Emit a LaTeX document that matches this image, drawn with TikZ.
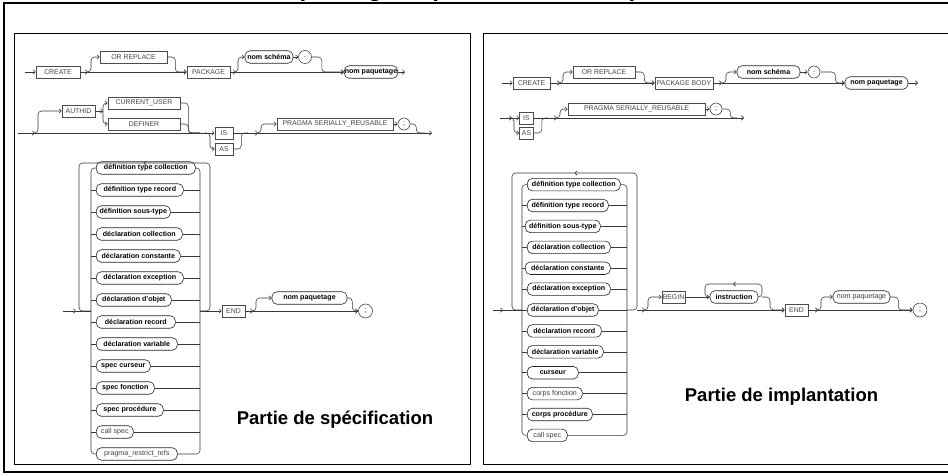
\documentclass[tikz,border=0pt]{standalone}
\usepackage{fontspec}
\setmainfont{Liberation Sans}
\usetikzlibrary{arrows.meta,decorations.markings}
\begin{document}
\begin{tikzpicture}[x=1pt,y=-1pt,
  rr/.style={draw=black!78, line width=0.55pt},
  rc/.style={rr, rounded corners=3.5pt},
  arr/.style={-{Straight Barb[length=2.2pt,width=4.4pt]}},
  kw/.style={draw=black!70, line width=0.55pt, font=\fontsize{6.9}{7}\selectfont, text=black!72, inner sep=0.5pt, minimum height=12pt},
  nt/.style={draw=black!85, line width=0.6pt, rounded corners=5pt, font=\fontsize{7.1}{7.5}\selectfont\bfseries, inner sep=0.5pt, minimum height=12.5pt},
  ntl/.style={nt, font=\fontsize{7.1}{7.5}\selectfont, text=black!75},
  term/.style={circle, draw=black!80, line width=0.55pt, inner sep=0pt, minimum size=13pt, font=\fontsize{7}{7}\selectfont},
  loopmark/.style={postaction={decorate}, decoration={markings, mark=at position 0.5 with {\arrow{Straight Barb[length=2.2pt,width=4.4pt]}}}},
  panel/.style={draw=black, line width=0.9pt},
  caption/.style={font=\fontsize{18.5}{20}\selectfont\bfseries}
]
\useasboundingbox (0,0) rectangle (948,475);
\fill[white] (0,0) rectangle (948,475);

\begin{scope}
\clip (0,0) rectangle (948,475);
% heading, set above the sheet
\node[anchor=base west, font=\fontsize{24}{24}\selectfont\bfseries, inner sep=0pt] (title) at (138,-3.5) {Création d'un package : spécification et implantation};
% outer frame and the two panels
\draw[line width=1.6pt] (4,3) rectangle (952,472);
\draw[panel] (14,33) rectangle (470,464);
\draw[panel] (483,33) rectangle (952,464);
\end{scope}

% ================= specification: CREATE ... PACKAGE =================
\coordinate (l1in) at (25,72);
\node[kw, minimum width=44pt] (lcreate) at (58,72) {CREATE};
\coordinate (l1a) at (88,72);
\node[kw, minimum width=67pt] (lorr) at (133.5,57) {OR REPLACE};
\node[kw, minimum width=43pt] (lpkg) at (208.5,72) {PACKAGE};
\coordinate (l1c) at (236,72);
\node[nt, minimum width=48pt] (lschema) at (269,57) {nom schéma};
\node[term] (ldot) at (305,57) {.};
\node[nt, minimum width=52pt] (lname1) at (371,72) {nom paquetage};
\coordinate (l1out) at (405,72);

\draw[rr,arr] (l1in) -- (lcreate.west);
\draw[rr,arr] (lcreate.east) -- (l1a);
\draw[rc,arr] (l1a) -- ++(3,0) |- (lorr.west);
\draw[rc,arr] (lorr.east) -- ++(8,0) |- (lpkg.west);
\draw[rr,arr] (l1a) -- (lpkg.west);
\draw[rr,arr] (lpkg.east) -- (l1c);
\draw[rc,arr] (l1c) -- ++(2,0) |- (lschema.west);
\draw[rr,arr] (lschema.east) -- (ldot.west);
\draw[rc,arr] (ldot.east) -- ++(10,0) |- (lname1.west);
\draw[rr,arr] (l1c) -- (lname1.west);
\draw[rr,arr] (lname1.east) -- (l1out);

% ================= specification: AUTHID, IS/AS, PRAGMA =================
\coordinate (l2in) at (18,133);
\coordinate (l2f) at (35,133);
\node[kw, minimum width=33pt] (lauth) at (78.5,111) {AUTHID};
\coordinate (l2g) at (103,111);
\node[kw, minimum width=72pt] (lcu) at (144,103) {CURRENT\_USER};
\node[kw, minimum width=72pt] (ldef) at (144,124) {DEFINER};
\coordinate (l2j) at (200,133);
\coordinate (l2k) at (207,133);
\node[kw, minimum width=18pt] (lis) at (224,133) {IS};
\node[kw, minimum width=18pt] (las) at (224,149) {AS};
\coordinate (l2n) at (248,133);
\coordinate (l2p) at (258,133);
\node[kw, minimum width=116pt] (lprag) at (335,124) {PRAGMA SERIALLY\_REUSABLE};
\node[term, minimum size=12pt] (lsc1) at (404,124) {;};
\coordinate (l2q) at (425,133);
\coordinate (l2out) at (432,133);

\draw[rr,arr] (l2in) -- (l2f);
\draw[rr,arr] (l2f) -- (lis.west);
\draw[rc,arr] (l2f) -- ++(3,0) |- (lauth.west);
\draw[rr,arr] (lauth.east) -- (l2g);
\draw[rc,arr] (l2g) |- (lcu.west);
\draw[rc,arr] (l2g) |- (ldef.west);
\draw[rc] (lcu.east) -- ++(8,0) |- (l2j);
\draw[rc] (ldef.east) -- ++(8,0) |- (l2j);
\draw[rc,arr] (l2k) -- ++(3,0) |- (las.west);
\draw[rr] (lis.east) -- (l2n);
\draw[rc] (las.east) -- ++(8,0) |- (l2n);
\draw[rr,arr] (l2n) -- (l2p);
\draw[rc,arr] (l2p) -- ++(3,0) |- (lprag.west);
\draw[rr,arr] (lprag.east) -- (lsc1.west);
\draw[rc] (lsc1.east) -- ++(6,0) |- (l2q);
\draw[rr] (l2p) -- (l2q);
\draw[rr,arr] (l2q) -- (l2out);

% ================= specification: declarations, END =================
\coordinate (l3in) at (63,311);
\coordinate (l3arr) at (76,311);
\coordinate (lbl) at (91,311);
\coordinate (lbr) at (200,311);
\coordinate (llr) at (210,311);
\coordinate (lll) at (79,311);
\coordinate (ltop) at (144.5,163);

\node[nt,  anchor=west, minimum width=99pt] (li1)  at (96,168) {définition type collection};
\node[nt,  anchor=west, minimum width=87pt] (li2)  at (96,190) {définition type record};
\node[nt,  anchor=west, minimum width=74pt] (li3)  at (96,212) {définition sous-type};
\node[nt,  anchor=west, minimum width=86pt] (li4)  at (96,234) {déclaration collection};
\node[nt,  anchor=west, minimum width=84pt] (li5)  at (96,256) {déclaration constante};
\node[nt,  anchor=west, minimum width=87pt] (li6)  at (96,278) {déclaration exception};
\node[nt,  anchor=west, minimum width=75pt] (li7)  at (96,300) {déclaration d'objet};
\node[nt,  anchor=west, minimum width=79pt] (li8)  at (96,322) {déclaration record};
\node[nt,  anchor=west, minimum width=81pt] (li9)  at (96,344) {déclaration variable};
\node[nt,  anchor=west, minimum width=54pt] (li10) at (96,366) {spec curseur};
\node[nt,  anchor=west, minimum width=58pt] (li11) at (96,388) {spec fonction};
\node[nt,  anchor=west, minimum width=67pt] (li12) at (96,410) {spec procédure};
\node[ntl, anchor=west, minimum width=37pt] (li13) at (96,432) {call spec};
\node[ntl, anchor=west, minimum width=81pt] (li14) at (96,454) {pragma\_restrict\_refs};

\draw[rr,arr] (l3in) -- (l3arr);
\draw[rr] (l3arr) -- (lbl);
\draw[rc] (li1.west) -| (lbl) |- (li14.west);
\draw[rc] (li1.east) -| (lbr) |- (li14.east);
\foreach \n in {li2,li3,li4,li5,li6,li7,li8,li9,li10,li11,li12,li13}{
  \draw[rr] (\n.west -| lbl) -- (\n.west);
  \draw[rr] (\n.east) -- (\n.east -| lbr);
}
\draw[rc,loopmark] (lbr) -- (llr) |- (ltop) -| (lll) -- (lbl);

\node[kw, minimum width=23pt] (lend) at (233.5,311) {END};
\coordinate (l3f) at (253,311);
\node[nt, minimum width=75pt] (lname2) at (309.5,298) {nom paquetage};
\node[term, minimum size=14pt] (lsemi) at (365.5,311) {;};

\draw[rr,arr] (lbr) -- (lend.west);
\draw[rr,arr] (lend.east) -- (l3f);
\draw[rc,arr] (l3f) -- ++(3,0) |- (lname2.west);
\draw[rc,arr] (lname2.east) -- ++(5,0) |- (lsemi.west);
\draw[rr,arr] (l3f) -- (lsemi.west);

\node[caption] (lcap) at (335,420) {Partie de spécification};

% ================= body: CREATE ... PACKAGE BODY =================
\coordinate (r1in) at (502,83);
\node[kw, minimum width=37pt] (rcreate) at (531.5,83) {CREATE};
\coordinate (r1a) at (560,83);
\node[kw, minimum width=62pt] (rorr) at (604,72) {OR REPLACE};
\node[kw, minimum width=58pt] (rpkg) at (684,83) {PACKAGE BODY};
\coordinate (r1b) at (722,83);
\node[nt, minimum width=63pt] (rschema) at (768.5,72) {nom schéma};
\node[term, minimum size=12pt] (rdot) at (814,72) {.};
\node[nt, minimum width=63pt] (rname1) at (876.5,83) {nom paquetage};
\coordinate (r1out) at (918,83);

\draw[rr,arr] (r1in) -- (rcreate.west);
\draw[rr,arr] (rcreate.east) -- (r1a);
\draw[rc,arr] (r1a) -- ++(3,0) |- (rorr.west);
\draw[rc,arr] (rorr.east) -- ++(9,0) |- (rpkg.west);
\draw[rr,arr] (r1a) -- (rpkg.west);
\draw[rr,arr] (rpkg.east) -- (r1b);
\draw[rc,arr] (r1b) -- ++(4,0) |- (rschema.west);
\draw[rr,arr] (rschema.east) -- (rdot.west);
\draw[rc,arr] (rdot.east) -- ++(15,0) |- (rname1.west);
\draw[rr,arr] (r1b) -- (rname1.west);
\draw[rr,arr] (rname1.east) -- (r1out);

% ================= body: IS/AS, PRAGMA =================
\coordinate (r2in) at (500,118);
\coordinate (r2a) at (512,118);
\node[kw, minimum width=14pt] (ris) at (526.5,118) {IS};
\node[kw, minimum width=14pt] (ras) at (526.5,133) {AS};
\coordinate (r2m) at (548,118);
\coordinate (r2b) at (557,118);
\node[kw, minimum width=137pt] (rprag) at (636.5,109) {PRAGMA SERIALLY\_REUSABLE};
\node[term, minimum size=12pt] (rsc1) at (716,109) {;};
\coordinate (r2q) at (737,118);
\coordinate (r2out) at (744,118);

\draw[rr,arr] (r2in) -- (r2a);
\draw[rr,arr] (r2a) -- (ris.west);
\draw[rc,arr] (r2a) -- ++(2,0) |- (ras.west);
\draw[rr] (ris.east) -- (r2m);
\draw[rc] (ras.east) -- ++(8,0) |- (r2m);
\draw[rr,arr] (r2m) -- (r2b);
\draw[rc,arr] (r2b) -- ++(3,0) |- (rprag.west);
\draw[rr,arr] (rprag.east) -- (rsc1.west);
\draw[rc] (rsc1.east) -- ++(8,0) |- (r2q);
\draw[rr] (r2b) -- (r2q);
\draw[rr,arr] (r2q) -- (r2out);

% ================= body: declarations, BEGIN ... END =================
\coordinate (r3in) at (493,310);
\coordinate (r3arr) at (503,310);
\coordinate (rbl) at (522,310);
\coordinate (rbr) at (627,310);
\coordinate (rlr) at (637,310);
\coordinate (rll) at (512,310);
\coordinate (rtop) at (574.5,173);

\node[nt,  anchor=west, minimum width=93pt] (ri1)  at (527,184.6) {définition type collection};
\node[nt,  anchor=west, minimum width=81pt] (ri2)  at (527,205.5) {définition type record};
\node[nt,  anchor=west, minimum width=75pt] (ri3)  at (525,226.4) {définition sous-type};
\node[nt,  anchor=west, minimum width=83pt] (ri4)  at (527,247.3) {déclaration collection};
\node[nt,  anchor=west, minimum width=85pt] (ri5)  at (525,268.2) {déclaration constante};
\node[nt,  anchor=west, minimum width=83pt] (ri6)  at (527,289.1) {déclaration exception};
\node[nt,  anchor=west, minimum width=71pt] (ri7)  at (527,310) {déclaration d'objet};
\node[nt,  anchor=west, minimum width=74pt] (ri8)  at (527,330.9) {déclaration record};
\node[nt,  anchor=west, minimum width=76pt] (ri9)  at (527,351.8) {déclaration variable};
\node[nt,  anchor=west, minimum width=51pt] (ri10) at (527,372.7) {curseur};
\node[ntl, anchor=west, minimum width=55pt] (ri11) at (527,393.6) {corps fonction};
\node[nt,  anchor=west, minimum width=65pt] (ri12) at (527,414.5) {corps procédure};
\node[ntl, anchor=west, minimum width=40pt] (ri13) at (527,435.4) {call spec};

\draw[rr,arr] (r3in) -- (r3arr);
\draw[rr] (r3arr) -- (rbl);
\draw[rc] (ri1.west) -| (rbl) |- (ri13.west);
\draw[rc] (ri1.east) -| (rbr) |- (ri13.east);
\foreach \n in {ri2,ri3,ri4,ri5,ri6,ri7,ri8,ri9,ri10,ri11,ri12}{
  \draw[rr] (\n.west -| rbl) -- (\n.west);
  \draw[rr] (\n.east) -- (\n.east -| rbr);
}
\draw[rc,loopmark] (rbr) -- (rlr) |- (rtop) -| (rll) -- (rbl);

\coordinate (r3a) at (645,310);
\node[kw, minimum width=23pt] (rbegin) at (673.5,297) {BEGIN};
\node[nt, minimum width=48pt] (rins) at (734,297) {instruction};
\coordinate (rinsl) at (705,297);
\coordinate (rinsr) at (762,297);
\coordinate (rinstop) at (733.5,284);
\node[kw, minimum width=23pt] (rend) at (796.5,310) {END};
\coordinate (r3b) at (818,310);
\node[ntl, minimum width=57pt] (rname2) at (861.5,297) {nom paquetage};
\node[term, minimum size=14pt] (rsemi) at (920,310) {;};

\draw[rr,arr] (rlr) -- (r3a);
\draw[rc,arr] (r3a) -- ++(3,0) |- (rbegin.west);
\draw[rr,arr] (rbegin.east) -- (rins.west);
\draw[rc,loopmark] (rins.east) -- (rinsr) |- (rinstop) -| (rinsl) -- (rins.west);
\draw[rc,arr] (rinsr) -- ++(8,0) |- (rend.west);
\draw[rr,arr] (r3a) -- (rend.west);
\draw[rr,arr] (rend.east) -- (r3b);
\draw[rc,arr] (r3b) -- ++(3,0) |- (rname2.west);
\draw[rc,arr] (rname2.east) -- ++(8,0) |- (rsemi.west);
\draw[rr,arr] (r3b) -- (rsemi.west);

\node[caption] (rcap) at (781.5,397) {Partie de implantation};

\end{tikzpicture}
\end{document}
